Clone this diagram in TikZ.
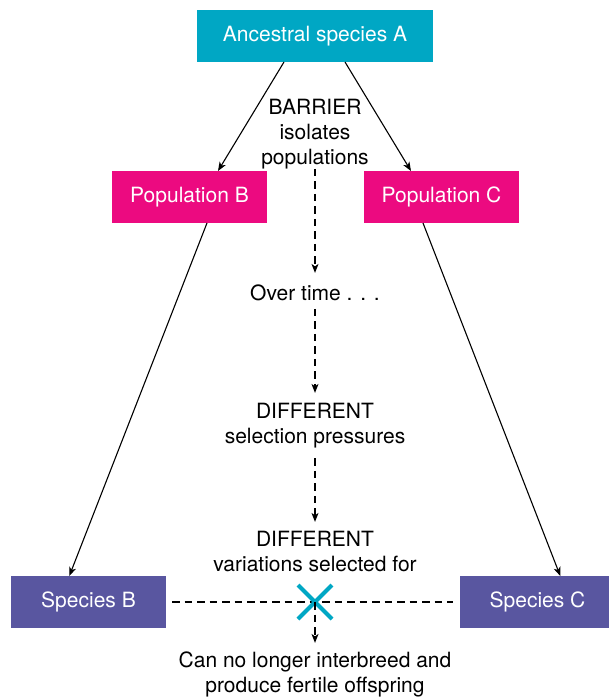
\documentclass[tikz,border=0pt]{standalone}
\usepackage{fontspec}
\setmainfont{TeX Gyre Heros}
\usetikzlibrary{arrows.meta,shapes.misc,calc}
\definecolor{ancol}{HTML}{00A7C4}
\definecolor{popcol}{HTML}{EC0A80}
\definecolor{specol}{HTML}{5956A0}
\begin{document}
\begin{tikzpicture}[x=1pt,y=-1pt,
  box/.style={rectangle, inner sep=0pt, outer sep=0pt, minimum width=155pt, minimum height=52pt,
    text=white, font=\fontsize{21}{25}\selectfont},
  lbl/.style={inner sep=0pt, outer sep=0pt, align=center, anchor=north, text=black,
    font=\fontsize{21}{25}\selectfont},
  arr/.style={-{Stealth[length=9pt,width=7pt,inset=2.5pt]}, line width=1.1pt, black},
  dsh/.style={dash pattern=on 7.5pt off 5pt, line width=1.1pt, black},
  darr/.style={dsh, -{Stealth[length=9pt,width=7pt,inset=2.5pt]}}
]
\useasboundingbox (0,0) rectangle (608,698);

\node[box, fill=ancol, minimum width=236pt] (anc) at (315,36) {Ancestral species A};
\node[box, fill=popcol] (popB) at (189.5,197) {Population B};
\node[box, fill=popcol] (popC) at (441.5,197) {Population C};
\node[box, fill=specol] (specB) at (88.5,602) {Species B};
\node[box, fill=specol] (specC) at (537.5,602) {Species C};

\node[lbl] (barrier) at (315,98.9) {BARRIER\\isolates\\populations};
\node[lbl] (overtime) at (315,284.9) {Over time . . .};
\node[lbl] (selpress) at (315,402.9) {DIFFERENT\\selection pressures};
\node[lbl] (varsel) at (315,530.9) {DIFFERENT\\variations selected for};
\node[lbl] (canno) at (315,651.9) {Can no longer interbreed and\\produce fertile offspring};

\draw[arr] ($(anc.south)+(-31,0)$) -- ($(popB.north)+(28.5,0)$);
\draw[arr] ($(anc.south)+(30,0)$) -- ($(popC.north)+(-30.5,0)$);
\draw[arr] ($(popB.south)+(17.5,0)$) -- ($(specB.north)+(-19.2,0)$);
\draw[arr] ($(popC.south)+(-18.5,0)$) -- ($(specC.north)+(22.8,0)$);

\draw[darr, shorten >=12pt] (barrier.south) -- (overtime.north);
\draw[darr, shorten <=8pt, shorten >=10pt] (overtime.south) -- (selpress.north);
\draw[darr, shorten <=10.6pt, shorten >=9pt] (selpress.south) -- (varsel.north);

\draw[dsh, shorten <=6pt, shorten >=7pt] (specB.east) -- (specC.west);
\node[cross out, draw=ancol, line width=4pt, minimum size=34pt, inner sep=0pt, outer sep=0pt] (cross) at (315,602) {};
\draw[darr, shorten >=9pt] (cross.center) -- (canno.north);
\end{tikzpicture}
\end{document}
